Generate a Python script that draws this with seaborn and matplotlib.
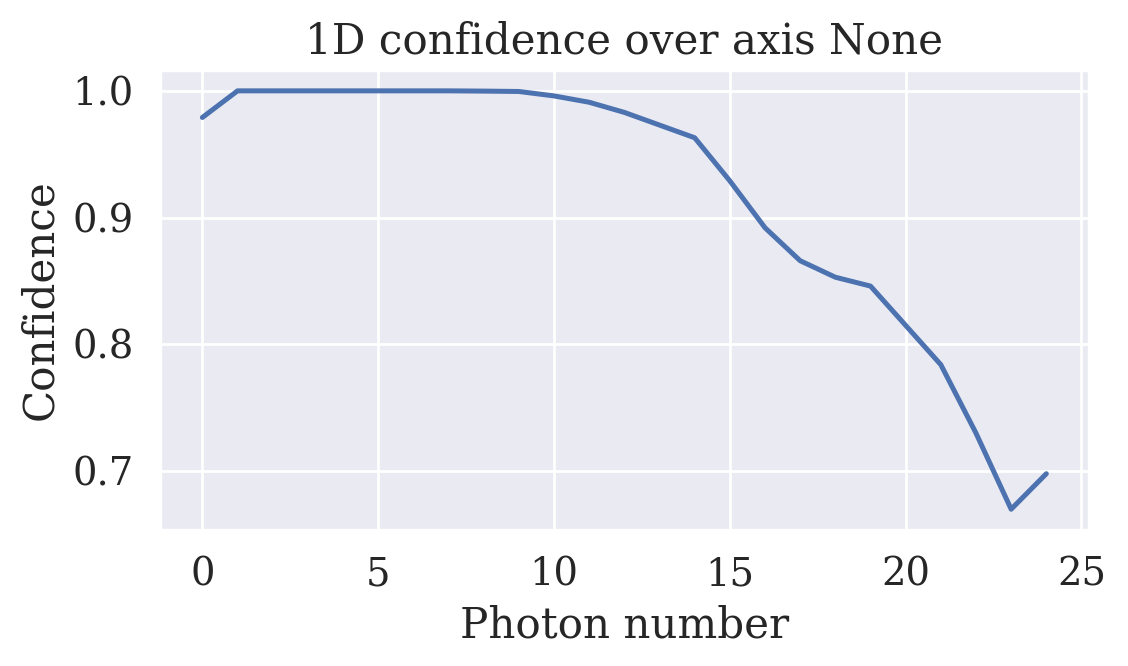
import numpy as np
import matplotlib
matplotlib.use('Agg')
import matplotlib.pyplot as plt
import seaborn as sns

photon_number = list(range(25))
confidence = [0.979, 1.0, 1.0, 1.0, 1.0, 1.0, 1.0, 1.0, 0.9998, 0.9995,
              0.996, 0.991, 0.983, 0.973, 0.963, 0.929, 0.892, 0.866, 0.853,
              0.846, 0.815, 0.784, 0.730, 0.670, 0.698]

sns.set_theme(style='darkgrid', font_scale=1.26)
plt.rcParams['font.family'] = ['DejaVu Serif']

fig, ax = plt.subplots(figsize=(5.64, 3.33), dpi=200)
sns.lineplot(x=photon_number, y=confidence, ax=ax, lw=1.8)
ax.set(xlabel='Photon number', ylabel='Confidence', title='1D confidence over axis None')
ax.set_yticks([0.7, 0.8, 0.9, 1.0])
fig.subplots_adjust(left=0.142, right=0.965, top=0.895, bottom=0.204)
fig.savefig('out.png', dpi=200)
